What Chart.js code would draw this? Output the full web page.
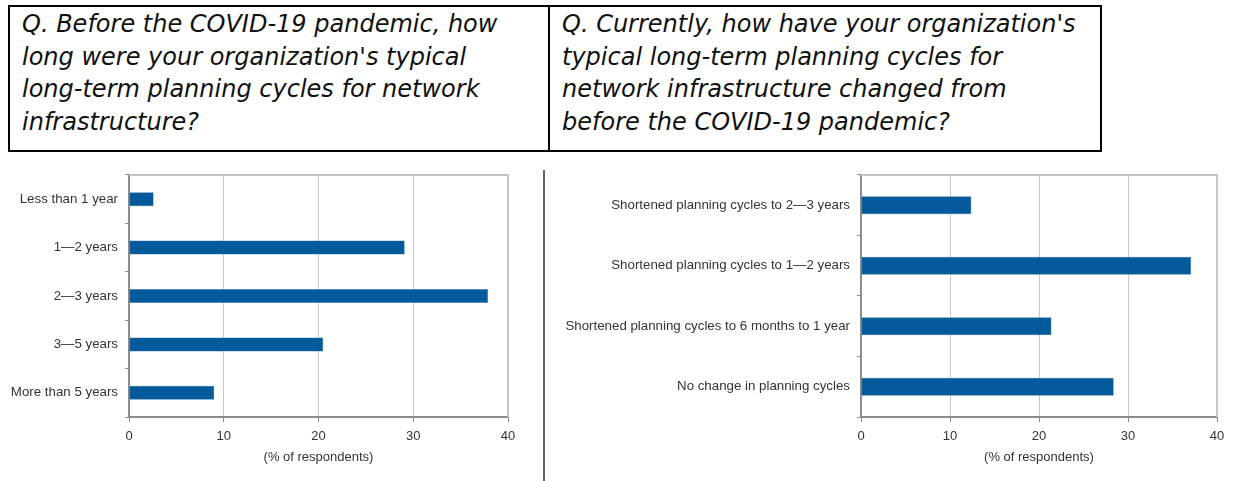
<!DOCTYPE html>
<html>
<head>
  <title>Network planning cycles</title>
  <script src="https://cdn.jsdelivr.net/npm/chart.js@4.4.2/dist/chart.umd.min.js"></script>
  <style>
    body { margin: 0; width: 1233px; height: 481px; position: relative; background: #fff; overflow: hidden; }
    .qbox { position: absolute; top: 5px; height: 147px; box-sizing: border-box; border: 2px solid #000;
            font-family: "DejaVu Sans", sans-serif; font-style: italic; font-size: 24px; line-height: 32.7px;
            padding: 1px 0 0 12px; color: #111; white-space: nowrap; }
    #q1 { left: 8px; width: 542px; }
    #q2 { left: 548px; width: 554px; }
    .chart-box { position: absolute; top: 160px; height: 321px; }
    #leftBox { left: 0; width: 538px; }
    #rightBox { left: 550px; width: 683px; }
    #divider { position: absolute; left: 543px; top: 170px; width: 2px; height: 311px; background: #666; }
  </style>
</head>
<body>
  <div class="qbox" id="q1">Q. Before the COVID-19 pandemic, how<br>long were your organization's typical<br>long-term planning cycles for network<br>infrastructure?</div>
  <div class="qbox" id="q2">Q. Currently, how have your organization's<br>typical long-term planning cycles for<br>network infrastructure changed from<br>before the COVID-19 pandemic?</div>
  <div class="chart-box" id="leftBox"><canvas id="leftChart"></canvas></div>
  <div id="divider"></div>
  <div class="chart-box" id="rightBox"><canvas id="rightChart"></canvas></div>
<script>
const beforeLabels = ['Less than 1 year', '1\u20142 years', '2\u20143 years', '3\u20145 years', 'More than 5 years'];
const beforeValues = [2.6, 29.1, 37.9, 20.5, 9.0];

const changeLabels = ['Shortened planning cycles to 2\u20143 years', 'Shortened planning cycles to 1\u20142 years',
  'Shortened planning cycles to 6 months to 1 year', 'No change in planning cycles'];
const changeValues = [12.4, 37.1, 21.4, 28.4];

const xTicks = [0, 10, 20, 30, 40];
const axisTitle = '(% of respondents)';

const BAR = '#045a9a';
const FONT = '"Liberation Sans", Arial, sans-serif';

// top + right frame of the plot area
const framePlugin = {
  id: 'frame',
  afterDatasetsDraw(chart) {
    const a = chart.chartArea, c = chart.ctx;
    c.save();
    c.strokeStyle = '#c4c4c4';
    c.lineWidth = 2;
    c.beginPath();
    c.moveTo(a.left, a.top);
    c.lineTo(a.right, a.top);
    c.lineTo(a.right, a.bottom);
    c.stroke();
    c.restore();
  }
};

function makeChart(id, labels, values, yWidth, barPct, padRight) {
  return new Chart(document.getElementById(id), {
    type: 'bar',
    data: {
      labels: labels,
      datasets: [{ data: values, backgroundColor: BAR, borderColor: '#3f7fb5', borderWidth: 0.5,
                   barPercentage: barPct, categoryPercentage: 1 }]
    },
    options: {
      indexAxis: 'y',
      responsive: true,
      maintainAspectRatio: false,
      animation: false,
      layout: { padding: { top: 14, right: padRight, left: 0, bottom: 0 } },
      plugins: { legend: { display: false }, tooltip: { enabled: false } },
      scales: {
        x: {
          min: xTicks[0], max: xTicks[xTicks.length - 1],
          afterBuildTicks: s => { s.ticks = xTicks.map(v => ({ value: v })); },
          afterFit: s => { s.height = 64; },
          grid: { color: '#c8c8c8', lineWidth: 1, tickLength: 5, tickColor: '#8c8c8c' },
          border: { color: '#8c8c8c', width: 2 },
          ticks: { color: '#333', font: { family: FONT, size: 13 }, padding: 7 },
          title: { display: true, text: axisTitle, color: '#333', font: { family: FONT, size: 13 },
                   padding: { top: 2, bottom: 16 } }
        },
        y: {
          afterFit: s => { s.width = yWidth; },
          grid: { drawOnChartArea: false, offset: true, tickLength: 4, tickColor: '#8c8c8c' },
          border: { color: '#8c8c8c', width: 2 },
          ticks: { color: '#333', font: { family: FONT, size: 13.3 }, padding: 7 }
        }
      }
    },
    plugins: [framePlugin]
  });
}

makeChart('leftChart', beforeLabels, beforeValues, 129, 0.29, 30);
makeChart('rightChart', changeLabels, changeValues, 311, 0.30, 16);
</script>
</body>
</html>
